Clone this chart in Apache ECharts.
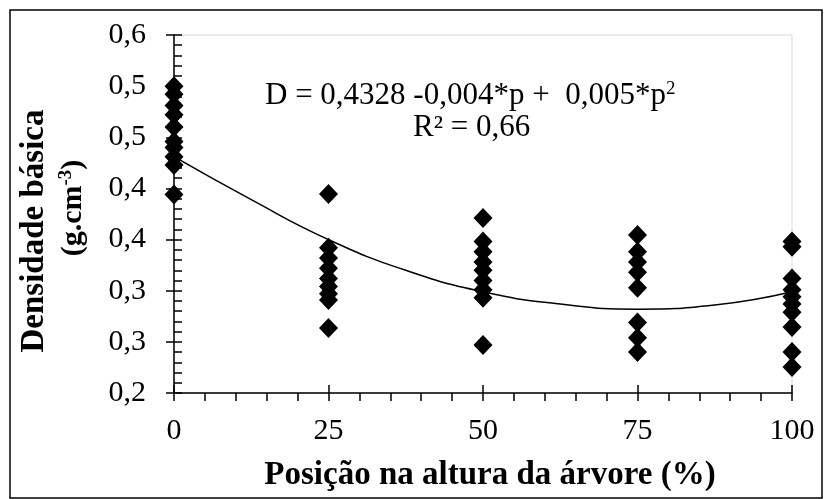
<!DOCTYPE html>
<html>
<head>
<meta charset="utf-8">
<script src="https://cdn.jsdelivr.net/npm/echarts@6/dist/echarts.min.js"></script>
<style>
html,body{margin:0;padding:0;background:#fff;}
#chart{width:826px;height:499px;}
</style>
</head>
<body>
<div id="chart"></div>
<script>
// ---- data ----
const dens0   = [0.500, 0.492, 0.481, 0.472, 0.460, 0.446, 0.440, 0.431, 0.423, 0.394];
const dens25  = [0.3945, 0.342, 0.332, 0.322, 0.312, 0.304, 0.297, 0.291, 0.2635];
const dens50  = [0.371, 0.348, 0.338, 0.328, 0.320, 0.310, 0.301, 0.293, 0.247];
const dens75  = [0.3545, 0.338, 0.328, 0.318, 0.303, 0.269, 0.254, 0.240];
const dens100 = [0.348, 0.343, 0.312, 0.301, 0.294, 0.287, 0.279, 0.2645, 0.240, 0.2254];
const positions = [0, 25, 50, 75, 100];
const curveP = [0, 12.5, 25, 37.5, 50, 62.5, 75, 87.5, 100];
const curveD = [0.431, 0.389, 0.350, 0.320, 0.299, 0.287, 0.282, 0.286, 0.299];
const xTickLabels = ['0', '25', '50', '75', '100'];
const yTickLabels = ['0,2', '0,3', '0,3', '0,4', '0,4', '0,5', '0,5', '0,6'];

const groups = [dens0, dens25, dens50, dens75, dens100];
const scatterData = [];
groups.forEach((g, i) => g.forEach(v => scatterData.push([positions[i], v])));
const curveData = curveP.map((p, i) => [p, curveD[i]]);

const FONT = '"Liberation Serif", "Times New Roman", serif';
const chart = echarts.init(document.getElementById('chart'), null, {renderer: 'canvas'});

const axisX = {type: 'value', min: 0, max: 100, interval: 25, position: 'bottom'};
const axisY = {type: 'value', min: 0.2, max: 0.55, interval: 0.05, position: 'left'};
const tickStyle = {color: '#000', width: 1.5};

chart.setOption({
  animation: false,
  backgroundColor: '#fff',
  grid: {left: 174, right: 34, top: 35, bottom: 106, show: true, borderColor: '#d9d9d9', borderWidth: 1},
  xAxis: [
    Object.assign({}, axisX, {
      axisLine: {show: true, lineStyle: tickStyle},
      axisTick: {show: true, inside: false, length: 8, lineStyle: tickStyle},
      minorTick: {show: true, splitNumber: 5, length: 8, lineStyle: tickStyle},
      splitLine: {show: false},
      axisLabel: {show: true, margin: 23, color: '#000', fontFamily: FONT, fontSize: 30,
        formatter: (v, i) => xTickLabels[i]}
    }),
    Object.assign({}, axisX, {
      axisLine: {show: false},
      axisTick: {show: true, inside: true, length: 8, lineStyle: tickStyle},
      splitLine: {show: false},
      axisLabel: {show: false}
    })
  ],
  yAxis: [
    Object.assign({}, axisY, {
      axisLine: {show: true, lineStyle: tickStyle},
      axisTick: {show: true, inside: false, length: 8, lineStyle: tickStyle},
      splitLine: {show: false},
      axisLabel: {show: true, margin: 28, color: '#000', fontFamily: FONT, fontSize: 30,
        formatter: (v, i) => yTickLabels[i]}
    }),
    Object.assign({}, axisY, {
      offset: 0,
      axisLine: {show: false},
      axisTick: {show: true, inside: true, length: 8, lineStyle: tickStyle},
      minorTick: {show: true, splitNumber: 5, length: 8, lineStyle: tickStyle},
      splitLine: {show: false},
      axisLabel: {show: false}
    })
  ],
  series: [
    {
      type: 'line', xAxisIndex: 0, yAxisIndex: 0, data: curveData, smooth: 0.5,
      showSymbol: false, symbol: 'none', z: 3,
      lineStyle: {color: '#000', width: 1.5}
    },
    {
      type: 'scatter', xAxisIndex: 0, yAxisIndex: 0, data: scatterData,
      symbol: 'diamond', symbolSize: [19, 20], z: 4,
      itemStyle: {color: '#000', opacity: 1}
    }
  ],
  graphic: [
    {type: 'rect', shape: {x: 10, y: 10, width: 812, height: 488}, style: {fill: 'none', stroke: '#000', lineWidth: 1.5}, silent: true},
    {type: 'text', x: 265, y: 96, style: {
      text: '{n|D = 0,4328 -0,004*p +  0,005*p}{s|2}', verticalAlign: 'middle',
      rich: {n: {fontFamily: FONT, fontSize: 31, fill: '#000'}, s: {fontFamily: FONT, fontSize: 19, fill: '#000', padding: [0,0,14,0]}}
    }},
    {type: 'text', x: 413, y: 128, style: {
      text: 'R² = 0,66', fontFamily: FONT, fontSize: 31, fill: '#000', verticalAlign: 'middle'
    }},
    {type: 'text', x: 34, y: 231, rotation: Math.PI / 2, style: {
      text: 'Densidade básica', fontFamily: FONT, fontSize: 33, fontWeight: 'bold', fill: '#000',
      align: 'center', verticalAlign: 'middle'
    }},
    {type: 'text', x: 73, y: 208, rotation: Math.PI / 2, style: {
      text: '{n|(g.cm}{s|-3}{n|)}', align: 'center', verticalAlign: 'middle',
      rich: {n: {fontFamily: FONT, fontSize: 30, fontWeight: 'bold', fill: '#000'}, s: {fontFamily: FONT, fontSize: 19, fontWeight: 'bold', fill: '#000', padding: [0,0,14,0]}}
    }},
    {type: 'text', x: 490, y: 475, style: {
      text: 'Posição na altura da árvore (%)', fontFamily: FONT, fontSize: 33, fontWeight: 'bold', fill: '#000',
      align: 'center', verticalAlign: 'middle'
    }}
  ]
});
</script>
</body>
</html>
